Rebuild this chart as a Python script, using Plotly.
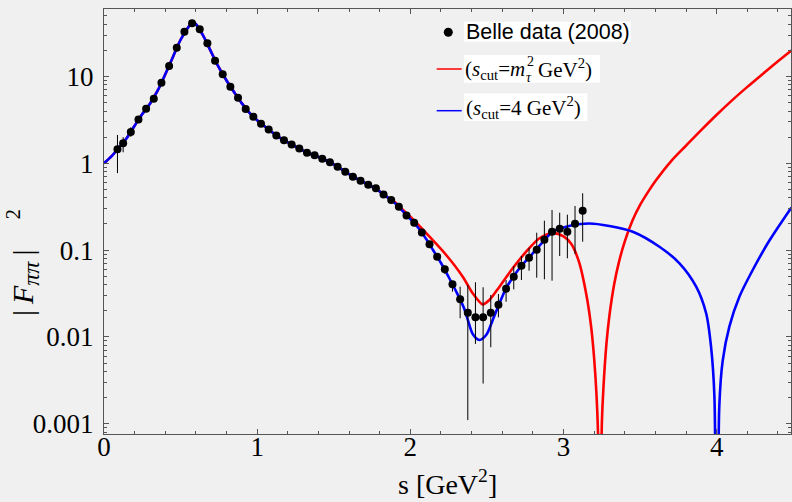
import plotly.graph_objects as go

# Belle (2008) tau -> pi pi nu spectral data: bin centres s [GeV^2] and |F_pipi|^2
s_data = [0.088, 0.125, 0.175, 0.225, 0.275, 0.325, 0.375, 0.425, 0.475, 0.525,
          0.575, 0.625, 0.675, 0.725, 0.775, 0.825, 0.875, 0.925, 0.975, 1.025,
          1.075, 1.125, 1.175, 1.225, 1.275, 1.325, 1.375, 1.425, 1.475, 1.525,
          1.575, 1.625, 1.675, 1.725, 1.775, 1.825, 1.875, 1.925, 1.975, 2.025,
          2.075, 2.125, 2.175, 2.225, 2.275, 2.325, 2.375, 2.425, 2.475, 2.525,
          2.575, 2.625, 2.675, 2.725, 2.775, 2.825, 2.875, 2.925, 2.975, 3.025,
          3.075, 3.125]
f2_data = [1.45, 1.70, 2.29, 3.20, 4.26, 5.55, 8.48, 13.2, 21.5, 32.8,
           41.0, 35.0, 24.1, 15.2, 10.6, 7.63, 5.70, 4.22, 3.44, 2.86,
           2.45, 2.09, 1.84, 1.65, 1.48, 1.325, 1.236, 1.130, 1.027, 0.914,
           0.800, 0.701, 0.630, 0.567, 0.515, 0.437, 0.378, 0.316, 0.250, 0.207,
           0.160, 0.117, 0.0839, 0.0601, 0.0404, 0.0271, 0.0190, 0.0168, 0.0168, 0.0190,
           0.0235, 0.0359, 0.0494, 0.0661, 0.0817, 0.1011, 0.1318, 0.1629, 0.1764, 0.1629,
           0.2014, 0.2844]
err_up = [0.67, 0.30, 0.31, 0, 0, 0, 0, 0, 0, 0,
          0, 0, 0, 0, 0, 0, 0, 0, 0, 0,
          0, 0, 0, 0, 0, 0, 0, 0, 0, 0,
          0, 0, 0, 0, 0, 0, 0, 0, 0, 0,
          0, 0, 0.006, 0.006, 0.003, 0.0108, 0.0206, 0.0258, 0.0205, 0.0114,
          0.0077, 0.0093, 0.0162, 0.0194, 0.0249, 0.0575, 0.0864, 0.127, 0.0934, 0.093,
          0.121, 0.167]
err_dn = [0.68, 0.36, 0.27, 0, 0, 0, 0, 0, 0, 0,
          0, 0, 0, 0, 0, 0, 0, 0, 0, 0,
          0, 0, 0, 0, 0, 0, 0, 0, 0, 0,
          0, 0, 0, 0, 0, 0, 0, 0, 0, 0,
          0, 0, 0.006, 0.007, 0.0072, 0.0107, 0.0179, 0.0085, 0.0139, 0.0114,
          0.0067, 0.0105, 0.0141, 0.0209, 0.0238, 0.053, 0.0857, 0.1185, 0.0909, 0.0825,
          0.111, 0.1595]

# Fit with s_cut = m_tau^2 GeV^2
red_s = [0, 0.05, 0.1, 0.15, 0.2, 0.25, 0.3, 0.35, 0.4, 0.45,
         0.5, 0.55, 0.58, 0.6, 0.65, 0.7, 0.75, 0.8, 0.85, 0.9,
         0.95, 1.0, 1.05, 1.1, 1.15, 1.2, 1.25, 1.3, 1.35, 1.4,
         1.45, 1.5, 1.55, 1.6, 1.65, 1.7, 1.75, 1.8, 1.85, 1.9,
         1.95, 2.016, 2.125, 2.234, 2.342, 2.407, 2.473, 2.516, 2.582, 2.668,
         2.756, 2.843, 2.93, 3.0, 3.05, 3.1, 3.15, 3.18, 3.2, 3.215,
         3.225, 3.232, 3.237, 3.242, 3.25, 3.26, 3.28, 3.3, 3.33, 3.36,
         3.4, 3.45, 3.5, 3.55, 3.6, 3.7, 3.8, 3.9, 4.0, 4.1,
         4.2, 4.3, 4.4, 4.488]
red_f2 = [1.0, 1.21, 1.53, 1.97, 2.71, 3.69, 4.86, 6.86, 10.6, 16.8,
          26.5, 37.0, 42.2, 40.0, 29.0, 19.1, 12.7, 9.0, 6.59, 4.90,
          3.81, 3.14, 2.65, 2.26, 1.96, 1.74, 1.56, 1.40, 1.28, 1.18,
          1.077, 0.969, 0.855, 0.749, 0.665, 0.598, 0.540, 0.474, 0.408, 0.355,
          0.292, 0.2264, 0.1427, 0.0878, 0.0494, 0.0318, 0.0237, 0.0266, 0.0379, 0.0617,
          0.0958, 0.1368, 0.157, 0.144, 0.118, 0.074, 0.030, 0.0132, 0.0056, 0.0022,
          0.0008, 0.00015, 1e-7, 0.00015, 0.0010, 0.0025, 0.0083, 0.0178, 0.0398, 0.0708,
          0.126, 0.219, 0.331, 0.462, 0.624, 1.047, 1.60, 2.43, 3.63, 5.31,
          7.59, 10.7, 15.0, 19.95]

# Fit with s_cut = 4 GeV^2
blue_s = [0, 0.05, 0.1, 0.15, 0.2, 0.25, 0.3, 0.35, 0.4, 0.45,
          0.5, 0.55, 0.58, 0.6, 0.65, 0.7, 0.75, 0.8, 0.85, 0.9,
          0.95, 1.0, 1.05, 1.1, 1.15, 1.2, 1.25, 1.3, 1.35, 1.4,
          1.45, 1.5, 1.55, 1.6, 1.65, 1.7, 1.75, 1.8, 1.85, 1.9,
          1.95, 2.0, 2.05, 2.1, 2.15, 2.2, 2.25, 2.3, 2.35, 2.375,
          2.407, 2.451, 2.495, 2.538, 2.582, 2.625, 2.712, 2.799, 2.886, 2.929,
          3.017, 3.169, 3.3, 3.452, 3.626, 3.757, 3.866, 3.931, 3.963, 3.985,
          4.0, 4.017, 4.039, 4.083, 4.148, 4.235, 4.343, 4.488]
blue_f2 = [1.0, 1.21, 1.53, 1.97, 2.71, 3.69, 4.86, 6.86, 10.6, 16.8,
           26.5, 37.0, 42.2, 40.0, 29.0, 19.1, 12.7, 9.0, 6.59, 4.90,
           3.81, 3.14, 2.65, 2.26, 1.96, 1.74, 1.56, 1.40, 1.28, 1.18,
           1.077, 0.969, 0.855, 0.749, 0.665, 0.598, 0.540, 0.474, 0.406, 0.346,
           0.281, 0.228, 0.182, 0.137, 0.099, 0.071, 0.049, 0.0331, 0.0215, 0.0157,
           0.0108, 0.00921, 0.0105, 0.0157, 0.0244, 0.0363, 0.0617, 0.0919, 0.1368, 0.163,
           0.186, 0.2025, 0.1895, 0.163, 0.1094, 0.0705, 0.0379, 0.0187, 0.00771, 0.00205,
           1e-7, 0.0016, 0.0053, 0.0132, 0.029, 0.059, 0.128, 0.31]

x_ticks = [0, 1, 2, 3, 4]
y_ticks = [0.001, 0.01, 0.1, 1, 10]
y_tick_text = ["0.001", "0.01", "0.1", "1", "10"]

W, H = 792, 502
L, R, T, B = 104, 1, 9, 68
PW, PH = W - L - R, H - T - B

BG = "#f0f0f0"
FRAME = "#555555"
SERIF = "Liberation Serif"
SANS = "Liberation Sans"


def px(x):
    return (x - L) / PW


def py(y):
    return (H - B - y) / PH


fig = go.Figure()
fig.add_trace(go.Scatter(x=red_s, y=red_f2, mode="lines",
                         line=dict(color="#ff0000", width=2.6, shape="spline", smoothing=0.8),
                         hoverinfo="skip"))
fig.add_trace(go.Scatter(x=blue_s, y=blue_f2, mode="lines",
                         line=dict(color="#0000ff", width=2.6, shape="spline", smoothing=0.8),
                         hoverinfo="skip"))
fig.add_trace(go.Scatter(x=s_data, y=f2_data, mode="markers",
                         marker=dict(color="black", size=8),
                         error_y=dict(type="data", symmetric=False, array=err_up,
                                      arrayminus=err_dn, color="black", thickness=1, width=0)))

minor_y = [m * 10.0 ** e for e in range(-4, 2) for m in range(2, 10)]

fig.update_xaxes(range=[0, 4.485], tickmode="array", tickvals=x_ticks,
                 ticktext=[str(v) for v in x_ticks],
                 ticks="inside", ticklen=5, tickwidth=1, tickcolor=FRAME,
                 showline=True, linecolor=FRAME, linewidth=1, mirror="ticks",
                 showgrid=False, zeroline=False, ticklabelstandoff=-11,
                 minor=dict(tickmode="linear", tick0=0, dtick=0.2, ticks="inside",
                            ticklen=3, tickcolor=FRAME, showgrid=False),
                 tickfont=dict(family=SERIF, size=27, color="black"))
fig.update_yaxes(type="log", range=[-3.1187, 1.7776], tickmode="array",
                 tickvals=y_ticks, ticktext=y_tick_text,
                 ticks="inside", ticklen=5, tickwidth=1, tickcolor=FRAME,
                 showline=True, linecolor=FRAME, linewidth=1, mirror="ticks",
                 showgrid=False, zeroline=False, ticklabelstandoff=4,
                 minor=dict(tickmode="array", tickvals=minor_y, ticks="inside",
                            ticklen=3, tickcolor=FRAME, showgrid=False),
                 tickfont=dict(family=SERIF, size=27, color="black"))


def label(text, x, y, size, family=SERIF, xanchor="left", **kw):
    return dict(text=text, x=px(x), y=py(y), xref="paper", yref="paper",
                xanchor=xanchor, yanchor="middle", showarrow=False, borderpad=0,
                font=dict(family=family, size=size, color="black"), **kw)


y_title = ("|\u2009<i>F</i><sub><span style='font-size:24px'><i>ππ</i></span></sub>"
           "\u2009|\u2002\u2002<sup>2</sup>")

annotations = [
    label("s [GeV<sup>2</sup>]", 447, 482, 28, xanchor="center"),
    label(y_title, 22, 263, 30, xanchor="center", textangle=-90),
    # legend labels
    label("Belle data (2008)", 465, 31.7, 21.5, family=SANS),
    label("(<i>s</i><sub>cut</sub>=<i>m</i>", 526, 70, 21, xanchor="right"),
    label("2", 530.5, 61.5, 14, xanchor="center"),
    label("<i>τ</i>", 529, 77, 14, xanchor="center"),
    label("GeV<sup>2</sup>)", 537, 68.5, 21),
    label("(<i>s</i><sub>cut</sub>=4 GeV<sup>2</sup>)", 465, 107.5, 21),
]

shapes = [
    # white boxes behind the legend labels
    dict(type="rect", xref="paper", yref="paper", x0=px(464), x1=px(630.7),
         y0=py(41.7), y1=py(21.7), fillcolor="white", line=dict(width=0), layer="above"),
    dict(type="rect", xref="paper", yref="paper", x0=px(464), x1=px(600),
         y0=py(82.7), y1=py(55), fillcolor="white", line=dict(width=0), layer="above"),
    dict(type="rect", xref="paper", yref="paper", x0=px(464), x1=px(587.3),
         y0=py(121), y1=py(93.3), fillcolor="white", line=dict(width=0), layer="above"),
    # legend symbols
    dict(type="circle", xref="paper", yref="paper", xsizemode="pixel", ysizemode="pixel",
         xanchor=px(448.3), yanchor=py(32.3), x0=-4.5, x1=4.5, y0=-4.5, y1=4.5,
         fillcolor="black", line=dict(width=0)),
    dict(type="line", xref="paper", yref="paper", x0=px(436.7), x1=px(461.7),
         y0=py(69), y1=py(69), line=dict(color="#ff0000", width=1.5)),
    dict(type="line", xref="paper", yref="paper", x0=px(436.7), x1=px(461.7),
         y0=py(110.7), y1=py(110.7), line=dict(color="#0000ff", width=1.5)),
]

fig.update_layout(width=W, height=H, margin=dict(l=L, r=R, t=T, b=B),
                  paper_bgcolor=BG, plot_bgcolor=BG, showlegend=False,
                  annotations=annotations, shapes=shapes)

fig.write_html("out.html")
